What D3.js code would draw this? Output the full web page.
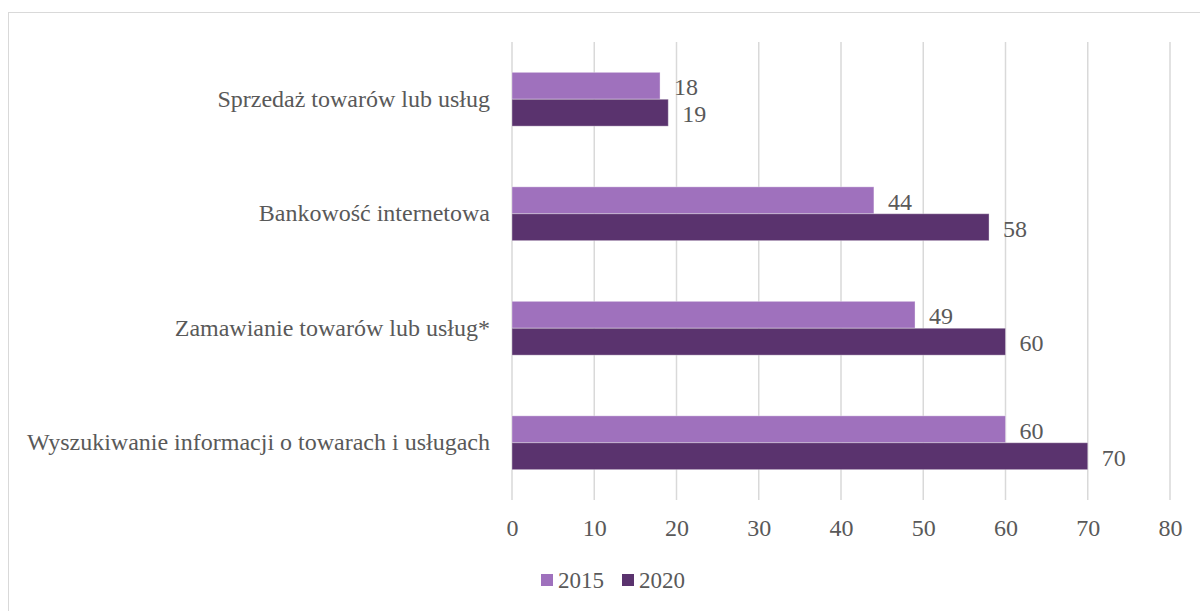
<!DOCTYPE html>
<html>
<head>
<meta charset="utf-8">
<script src="https://cdn.jsdelivr.net/npm/d3@7"></script>
<style>
  html, body { margin: 0; padding: 0; background: #fff; }
  svg { display: block; }
  text { font-family: "Liberation Serif", "Times New Roman", serif; fill: #595959; }
</style>
</head>
<body>
<svg id="chart" width="1200" height="611"></svg>
<script>
// Categories listed top to bottom
const categories = [
  "Sprzedaż towarów lub usług",
  "Bankowość internetowa",
  "Zamawianie towarów lub usług*",
  "Wyszukiwanie informacji o towarach i usługach"
];
const seriesNames = ["2015", "2020"];
const values2015 = [18, 44, 49, 60];
const values2020 = [19, 58, 60, 70];
const xTicks = [0, 10, 20, 30, 40, 50, 60, 70, 80];
const colors = ["#9F71BD", "#5A336E"];

const FONT = '"Liberation Serif", "Times New Roman", serif';
const svg = d3.select("#chart");
const W = 1200, H = 611;

// outer frame
svg.append("rect")
  .attr("x", 8.5).attr("y", 12.5)
  .attr("width", W).attr("height", H)
  .attr("fill", "none").attr("stroke", "#D9D9D9").attr("stroke-width", 1);

const plot = { left: 512, right: 1170, top: 42, bottom: 500 };

const x = d3.scaleLinear().domain([0, 80]).range([plot.left, plot.right]);
const y = d3.scaleBand().domain(categories).range([plot.top, plot.bottom]).paddingInner(0.53).paddingOuter(0.265);
const ySub = d3.scaleBand().domain(seriesNames).range([0, y.bandwidth()]);

// vertical gridlines
svg.append("g").selectAll("line").data(xTicks).join("line")
  .attr("x1", d => x(d)).attr("x2", d => x(d))
  .attr("y1", plot.top).attr("y2", plot.bottom)
  .attr("stroke", "#D9D9D9").attr("stroke-width", 1.5);

// x axis tick labels
const xAxis = d3.axisBottom(x).tickValues(xTicks).tickSize(0).tickPadding(0);
const gx = svg.append("g").attr("transform", `translate(0,${plot.bottom + 36})`).call(xAxis);
gx.select(".domain").remove();
gx.selectAll("text")
  .attr("dy", "0")
  .style("font-family", FONT)
  .style("font-size", "24px").attr("fill", "#595959");

// category labels
const yAxis = d3.axisLeft(y).tickSize(0).tickPadding(22);
const gy = svg.append("g").attr("transform", `translate(${plot.left},0)`).call(yAxis);
gy.select(".domain").remove();
gy.selectAll("text")
  .style("font-family", FONT)
  .style("font-size", "24px").attr("fill", "#595959");

// bars
const rows = categories.map((c, i) => ({ cat: c, vals: [values2015[i], values2020[i]] }));
const groups = svg.append("g").selectAll("g").data(rows).join("g")
  .attr("transform", d => `translate(0,${y(d.cat)})`);

groups.selectAll("rect").data(d => d.vals.map((v, j) => ({ v, s: seriesNames[j], j }))).join("rect")
  .attr("x", x(0))
  .attr("y", d => ySub(d.s))
  .attr("width", d => x(d.v) - x(0))
  .attr("height", ySub.bandwidth())
  .attr("fill", d => colors[d.j])
  .attr("stroke", "rgba(255,255,255,0.35)").attr("stroke-width", 1);

// value labels
groups.selectAll("text.val").data(d => d.vals.map((v, j) => ({ v, s: seriesNames[j], j }))).join("text")
  .attr("class", "val")
  .attr("x", d => x(d.v) + 14)
  .attr("y", d => ySub(d.s) + ySub.bandwidth() / 2 + 1)
  .attr("dy", "0.35em")
  .style("font-family", FONT)
  .style("font-size", "24px")
  .text(d => d.v);

// legend
const legend = svg.append("g").attr("transform", "translate(541,574)");
const items = [{ n: seriesNames[0], c: colors[0], x: 0 }, { n: seriesNames[1], c: colors[1], x: 81 }];
const li = legend.selectAll("g").data(items).join("g").attr("transform", d => `translate(${d.x},0)`);
li.append("rect").attr("width", 12).attr("height", 12).attr("fill", d => d.c);
li.append("text").attr("x", 17).attr("y", 6).attr("dy", "0.35em")
  .style("font-family", FONT)
  .style("font-size", "23px").text(d => d.n);
</script>
</body>
</html>
